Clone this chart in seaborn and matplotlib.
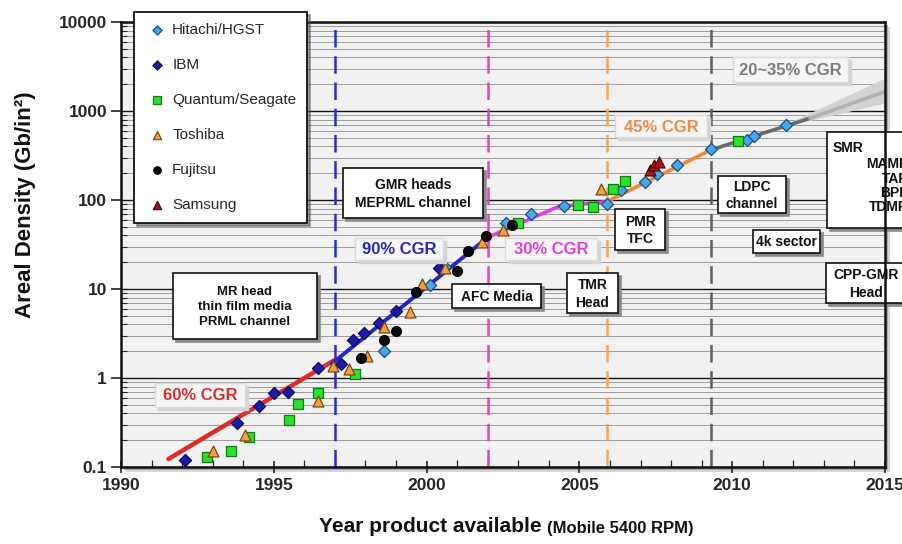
import matplotlib
matplotlib.use("Agg")
import matplotlib.pyplot as plt
import matplotlib.transforms as mtransforms
from matplotlib.patches import Rectangle
from matplotlib.ticker import LogLocator, FixedLocator, FixedFormatter, NullFormatter, MultipleLocator
import numpy as np
import seaborn as sns

# ---- shipping products: year available vs areal density (Gb/in^2) ----
hitachi_year = [1998.6, 2000.1, 2000.6, 2002.6, 2003.4, 2004.5, 2005.9, 2006.35, 2007.15,
                2007.55, 2008.2, 2009.3, 2010.5, 2010.7, 2011.75]
hitachi_density = [2.0, 11, 17.5, 55, 70, 85, 90, 130, 160, 195, 245, 370, 470, 520, 700]

ibm_year = [1992.1, 1993.8, 1994.5, 1995.0, 1995.45, 1996.45, 1997.2, 1997.6, 1997.95,
            1998.45, 1999.0, 2000.4]
ibm_density = [0.12, 0.31, 0.48, 0.67, 0.69, 1.3, 1.42, 2.65, 3.2, 4.2, 5.7, 17]

seagate_year = [1992.8, 1993.6, 1994.2, 1995.5, 1995.8, 1996.45, 1997.65, 2003.0, 2004.95,
                2005.45, 2006.1, 2006.5, 2010.2]
seagate_density = [0.13, 0.15, 0.22, 0.34, 0.51, 0.68, 1.12, 55, 88, 84, 133, 163, 460]

toshiba_year = [1993.0, 1994.05, 1996.45, 1996.95, 1997.45, 1998.05, 1998.6, 1999.45,
                1999.85, 2000.6, 2001.8, 2002.5, 2005.7]
toshiba_density = [0.15, 0.23, 0.55, 1.35, 1.25, 1.75, 3.7, 5.5, 11.5, 17, 34, 46, 133]

fujitsu_year = [1997.85, 1998.6, 1999.0, 1999.65, 2001.0, 2001.35, 2001.95, 2002.8]
fujitsu_density = [1.68, 2.7, 3.4, 9.3, 16, 27, 39, 52]

samsung_year = [2007.3, 2007.45, 2007.6]
samsung_density = [215, 245, 265]

# ---- compound growth trend segments ----
cgr60_year = [1991.55, 1997.0]
cgr60_density = [0.123, 1.6]
cgr90_year = [1996.9, 2002.0]
cgr90_density = [1.45, 38]
cgr30_year = [2002.0, 2004.3, 2005.9]
cgr30_density = [38, 84, 96]
cgr45_year = [2005.9, 2009.3]
cgr45_density = [96, 365]
future_year = [2009.3, 2012.55, 2015.0]
future_density = [365, 830, 1650]
fan_year = [2011.5, 2015.0]
fan_low = [650, 1230]
fan_high = [650, 2350]

# ---- technology eras ----
era_year = [1997.0, 2002.0, 2005.9, 2009.3]
era_color = ["#2a2ad0", "#e040d0", "#f5a658", "#5e5e5e"]

year_ticks = [1990, 1995, 2000, 2005, 2010, 2015]
density_ticks = [0.1, 1, 10, 100, 1000, 10000]
density_labels = ["0.1", "1", "10", "100", "1000", "10000"]

sns.set_theme(style="white")
plt.rcParams["font.family"] = ["Liberation Sans", "DejaVu Sans"]

fig = plt.figure(figsize=(9.02, 5.44), dpi=100)
W, H = 902.0, 544.0
L, R, T, B = 121, 885, 22, 467
ax_rect = [L / W, 1 - B / H, (R - L) / W, (B - T) / H]

# soft drop shadow behind the plotting frame
for off, col in [(5, "#d6d6d6"), (3, "#a8a8a8")]:
    fig.patches.append(Rectangle(((L + off) / W, 1 - (B + off) / H), (R - L) / W, (B - T) / H,
                                 transform=fig.transFigure, fc=col, ec="none", zorder=-5))

ax = fig.add_axes(ax_rect)
ax.set_facecolor("#f1f1f1")
ax.set_yscale("log")
ax.set_xlim(1990, 2015)
ax.set_ylim(0.1, 10000)

# horizontal grid
ax.yaxis.set_minor_locator(LogLocator(base=10, subs=np.arange(2, 10)))
ax.yaxis.set_minor_formatter(NullFormatter())
ax.grid(False)
ax.yaxis.grid(True, which="major", color="#111111", lw=1.0, zorder=0)
ax.yaxis.grid(True, which="minor", color="#8e8e8e", lw=0.6, zorder=0)
ax.set_axisbelow(True)

ax.xaxis.set_major_locator(FixedLocator(year_ticks))
ax.xaxis.set_minor_locator(MultipleLocator(1))
ax.yaxis.set_major_locator(FixedLocator(density_ticks))
ax.yaxis.set_major_formatter(FixedFormatter(density_labels))
ax.tick_params(axis="y", which="major", direction="out", length=7, width=1.2, pad=3,
               labelsize=12.5, left=True)
ax.tick_params(axis="y", which="minor", direction="in", length=4, width=0.8, left=True)
ax.tick_params(axis="x", which="major", direction="inout", length=8, width=1.2, pad=4,
               labelsize=12.5, bottom=True)
ax.tick_params(axis="x", which="minor", direction="in", length=5, width=0.9, bottom=True)
for lab in ax.get_yticklabels() + ax.get_xticklabels():
    lab.set_fontweight("bold")
for sp in ax.spines.values():
    sp.set_color("#111111")
    sp.set_linewidth(1.8)
    sp.set_zorder(9)

# era boundaries
for yr, col in zip(era_year, era_color):
    ax.axvline(yr, color=col, lw=1.8, dashes=(7, 3.5), zorder=1.5)

# projection fan and trend lines
ax.fill_between(fan_year, fan_low, fan_high, color="#d2d2d2", lw=0, zorder=2)
sns.lineplot(x=cgr60_year, y=cgr60_density, color="#e02a2a", lw=3.2, ax=ax, zorder=3)
sns.lineplot(x=cgr90_year, y=cgr90_density, color="#2424c8", lw=2.8, ax=ax, zorder=3)
sns.lineplot(x=cgr30_year, y=cgr30_density, color="#e03ee0", lw=2.6, ax=ax, zorder=3, sort=False)
sns.lineplot(x=cgr45_year, y=cgr45_density, color="#f08838", lw=2.6, ax=ax, zorder=3)
sns.lineplot(x=future_year[:2], y=future_density[:2], color="#6a6a6a", lw=2.6, ax=ax, zorder=3)
sns.lineplot(x=future_year[1:], y=future_density[1:], color="#b2b2b2", lw=2.6, ax=ax, zorder=3)

# manufacturers
series = [
    ("Hitachi/HGST", hitachi_year, hitachi_density, "D", "#45a8e8", "#1f4a88", 38),
    ("IBM", ibm_year, ibm_density, "D", "#1c1ca8", "#0a0a60", 38),
    ("Quantum/Seagate", seagate_year, seagate_density, "s", "#2ee02e", "#127a12", 48),
    ("Toshiba", toshiba_year, toshiba_density, "^", "#f2a043", "#7a4a10", 62),
    ("Fujitsu", fujitsu_year, fujitsu_density, "o", "#0a0a0a", "#000000", 50),
    ("Samsung", samsung_year, samsung_density, "^", "#a8161c", "#4a0808", 62),
]
for name, xs, ys, mk, fc, ec, size in series:
    sns.scatterplot(x=xs, y=ys, marker=mk, color=fc, edgecolor=ec, linewidth=0.9, s=size,
                    label=name, ax=ax, zorder=5)

handles, labels = ax.get_legend_handles_labels()
leg = ax.legend(handles, labels, loc="upper left",
                bbox_to_anchor=((134 - L) / (R - L), (B - 12) / (B - T)),
                frameon=True, fancybox=False, shadow=True, framealpha=1, edgecolor="#111111",
                fontsize=11, labelspacing=1.38, borderpad=0.7, handlelength=1.6,
                handletextpad=0.2, markerscale=0.75, borderaxespad=0)
leg.get_frame().set_linewidth(1.3)
leg.set_zorder(10)


def year_at(px):
    return 1990 + (px - L) * 25.0 / (R - L)


def density_at(py):
    return 10 ** (4 - (py - T) * 5.0 / (B - T))


shadow_tr = mtransforms.offset_copy(ax.transData, fig=fig, x=3, y=-3, units="dots")


def boxed(x0, x1, y0, y1, text, fs=10, color="#111111", fc="white", ec="#111111",
          shade="#8a8a8a", lw=1.2, z=7):
    for tr, face, edge, zz in [(shadow_tr, shade, shade, z - 0.5), (ax.transData, fc, ec, z)]:
        ax.add_patch(Rectangle((year_at(x0), density_at(y1)), year_at(x1) - year_at(x0),
                               density_at(y0) - density_at(y1), transform=tr, fc=face,
                               ec=edge, lw=lw, clip_on=False, zorder=zz))
    ax.text(year_at((x0 + x1) / 2), density_at((y0 + y1) / 2 + 1), text, ha="center",
            va="center", fontsize=fs, fontweight="bold", color=color, linespacing=1.3,
            zorder=z + 0.5, clip_on=False)


# technology boxes
boxed(173, 317, 273, 339, "MR head\nthin film media\nPRML channel", fs=9.5)
boxed(343, 483, 168, 218, "GMR heads\nMEPRML channel", fs=10)
boxed(452, 541, 284, 308, "AFC Media", fs=10)
boxed(567, 618, 273, 313, "TMR\nHead", fs=10)
boxed(615, 665, 209, 250, "PMR\nTFC", fs=10)
boxed(718, 786, 176, 213, "LDPC\nchannel", fs=10)
boxed(753, 820, 230, 253, "4k sector", fs=10)
boxed(826, 906, 263, 303, "CPP-GMR\nHead", fs=10)

# growth-rate labels
cgr_box = dict(fc="#f5f5f5", ec="#dadada", shade="#d4d4d4", lw=1.0, z=6)
boxed(155, 245, 383, 407, "60% CGR", fs=12, color="#dc2f2f", **cgr_box)
boxed(355, 443, 238, 260, "90% CGR", fs=12, color="#2a2ab4", **cgr_box)
boxed(505, 597, 238, 260, "30% CGR", fs=12, color="#e040e0", **cgr_box)
boxed(615, 707, 115, 137, "45% CGR", fs=12, color="#f08a40", **cgr_box)
boxed(733, 848, 57, 82, "20~35% CGR", fs=12, color="#7c7c7c", **cgr_box)

# future technologies box, running off the right edge
for tr, face, edge, zz in [(shadow_tr, "#8a8a8a", "#8a8a8a", 6.5), (ax.transData, "white", "#111111", 7)]:
    ax.add_patch(Rectangle((year_at(827), density_at(228)), year_at(918) - year_at(827),
                           density_at(132) - density_at(228), transform=tr, fc=face, ec=edge,
                           lw=1.2, clip_on=False, zorder=zz))
ax.text(year_at(833), density_at(148), "SMR", ha="left", va="center", fontsize=10,
        fontweight="bold", color="#111111", zorder=8, clip_on=False)
for py, word in [(164, "MAMR"), (179, "TAR"), (193, "BPR"), (207, "TDMR")]:
    ax.text(year_at(909), density_at(py), word, ha="right", va="center", fontsize=10,
            fontweight="bold", color="#111111", zorder=8, clip_on=False)

# axis titles
fig.text(26 / W, 1 - 205 / H, "Areal Density (Gb/in²)", rotation=90, ha="center", va="center",
         fontsize=16, fontweight="bold", color="#111111")
fig.text(547 / W, 1 - 527 / H, "Year product available ", ha="right", va="center",
         fontsize=15, fontweight="bold", color="#111111")
fig.text(547 / W, 1 - 528 / H, "(Mobile 5400 RPM)", ha="left", va="center",
         fontsize=12, fontweight="bold", color="#111111")

fig.savefig("out.png", dpi=100)
